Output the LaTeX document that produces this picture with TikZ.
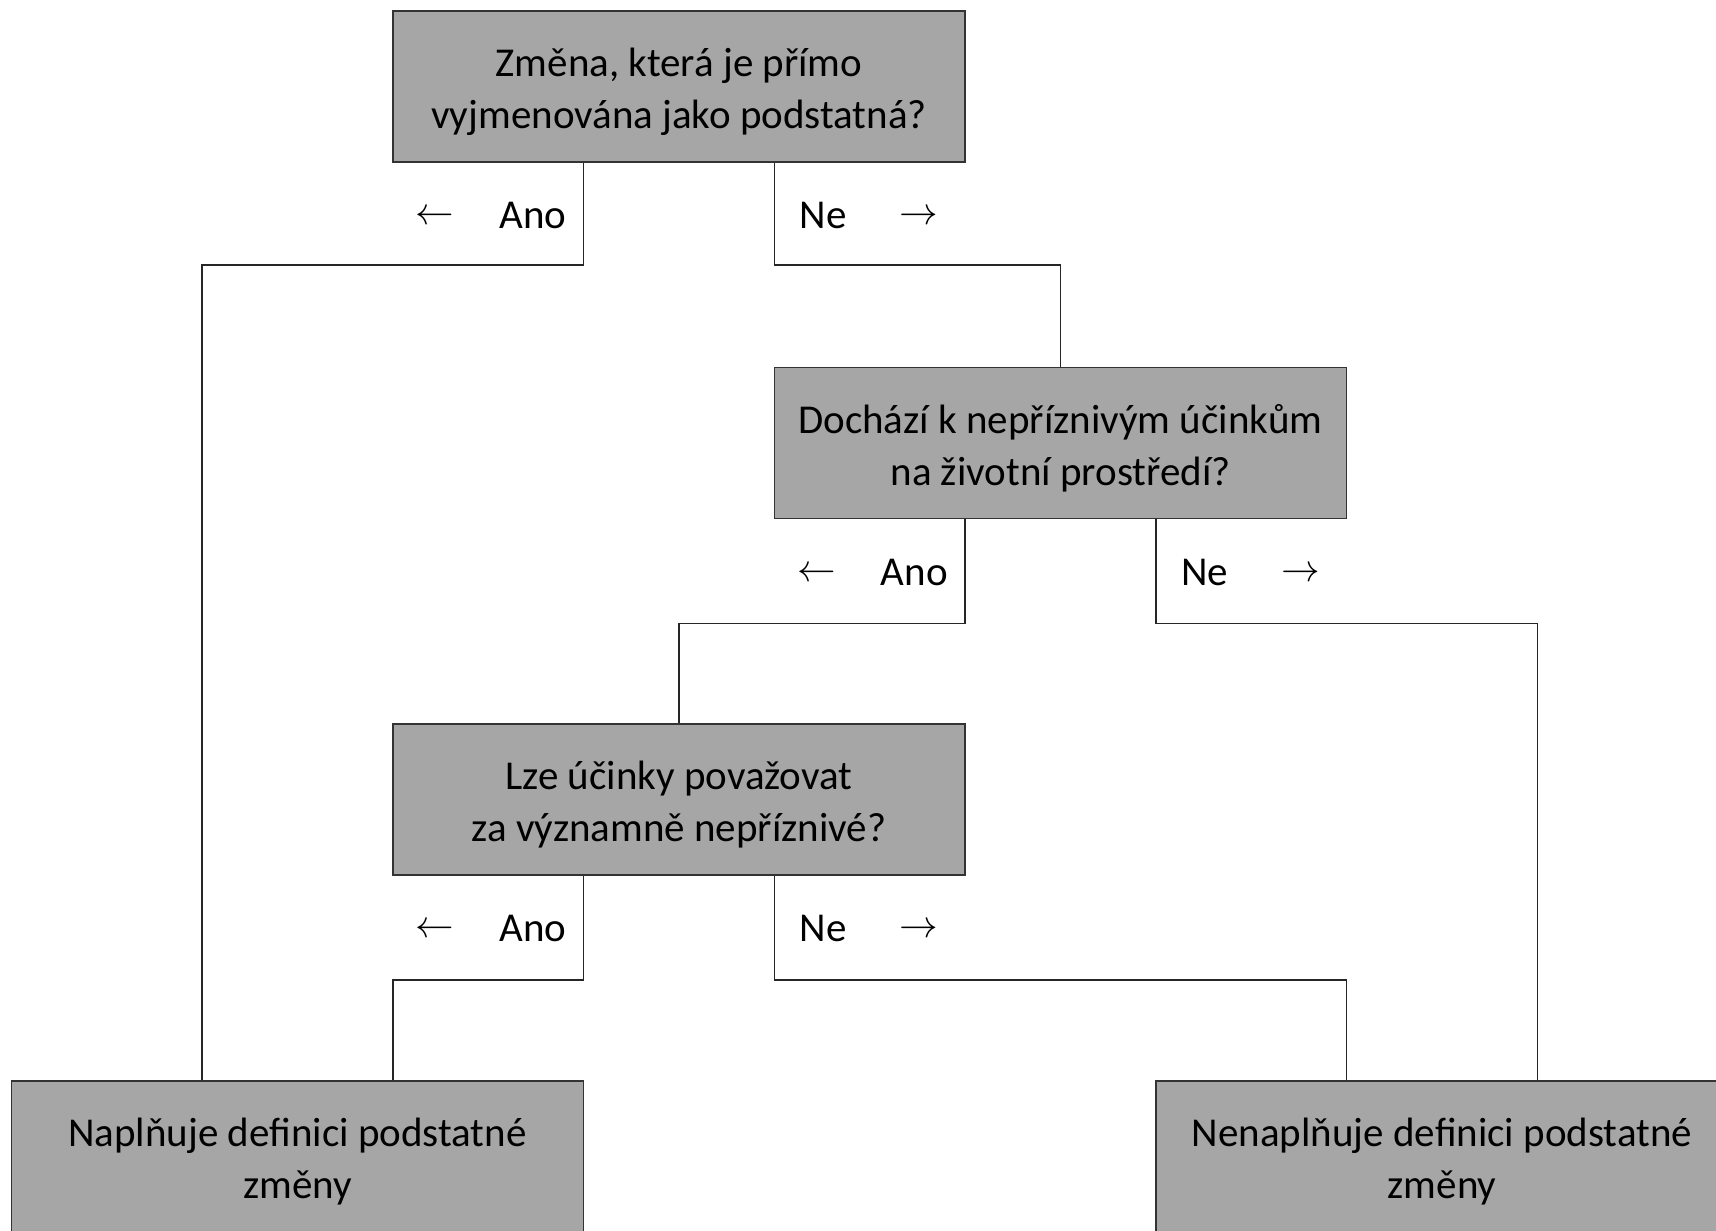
\documentclass[tikz,border=0pt]{standalone}
\usepackage{fontspec}
\setmainfont{Carlito}
\usetikzlibrary{calc}
\newcommand{\larr}{\raisebox{4pt}{\scalebox{1.55}{$\leftarrow$}}}
\newcommand{\rarr}{\raisebox{4pt}{\scalebox{1.55}{$\rightarrow$}}}
\begin{document}
\begin{tikzpicture}[x=1pt,y=-1pt,
  qbox/.style={draw=black!80,fill=black!35,line width=1.6pt,minimum width=572pt,minimum height=151pt,inner sep=0pt},
  qtext/.style={align=center,inner sep=0pt,font=\fontsize{41}{52}\selectfont,yshift=-5pt},
  conn/.style={draw=black!85,line width=1.6pt},
  lbl/.style={font=\fontsize{41}{48}\selectfont,inner sep=0pt}]
\useasboundingbox (0,0) rectangle (1716,1231);
\node[qbox,label={[qtext]center:Změna, která je přímo\\vyjmenována jako podstatná?}] (q1) at (679,86.5) {};
\node[qbox,label={[qtext]center:Dochází k nepříznivým účinkům\\na životní prostředí?}] (q2) at (1060.5,443) {};
\node[qbox,label={[qtext]center:Lze účinky považovat\\za významně nepříznivé?}] (q3) at (679,799.5) {};
\node[qbox,label={[qtext]center:Naplňuje definici podstatné\\změny}] (yes) at (297.5,1156.5) {};
\node[qbox,label={[qtext]center:Nenaplňuje definici podstatné\\změny}] (no) at (1442,1156.5) {};
% connectors
\coordinate (q1a) at ($(q1.south west)!1/3!(q1.south east)$);
\coordinate (q1n) at ($(q1.south west)!2/3!(q1.south east)$);
\coordinate (q2a) at ($(q2.south west)!1/3!(q2.south east)$);
\coordinate (q2n) at ($(q2.south west)!2/3!(q2.south east)$);
\coordinate (q3a) at ($(q3.south west)!1/3!(q3.south east)$);
\coordinate (q3n) at ($(q3.south west)!2/3!(q3.south east)$);
\coordinate (yes1) at ($(yes.north west)!1/3!(yes.north east)$);
\coordinate (yes2) at ($(yes.north west)!2/3!(yes.north east)$);
\coordinate (no1) at ($(no.north west)!1/3!(no.north east)$);
\coordinate (no2) at ($(no.north west)!2/3!(no.north east)$);
\draw[conn] (q1a) -- ++(0,102) -| (yes1);
\draw[conn] (q1n) -- ++(0,102) -| (q2.north);
\draw[conn] (q2a) -- ++(0,104) -| (q3.north);
\draw[conn] (q2n) -- ++(0,104) -| (no2);
\draw[conn] (q3a) -- ++(0,104) -| (yes2);
\draw[conn] (q3n) -- ++(0,104) -| (no1);
% labels
\node[lbl,anchor=east] (l1) at ($(q1a)+(-17,53)$) {\larr\hspace{45pt}Ano};
\node[lbl,anchor=west] (l2) at ($(q1n)+(25,53)$) {Ne\hspace{53pt}\rarr};
\node[lbl,anchor=east] (l3) at ($(q2a)+(-17,53)$) {\larr\hspace{45pt}Ano};
\node[lbl,anchor=west] (l4) at ($(q2n)+(25,53)$) {Ne\hspace{53pt}\rarr};
\node[lbl,anchor=east] (l5) at ($(q3a)+(-17,53)$) {\larr\hspace{45pt}Ano};
\node[lbl,anchor=west] (l6) at ($(q3n)+(25,53)$) {Ne\hspace{53pt}\rarr};
\end{tikzpicture}
\end{document}
